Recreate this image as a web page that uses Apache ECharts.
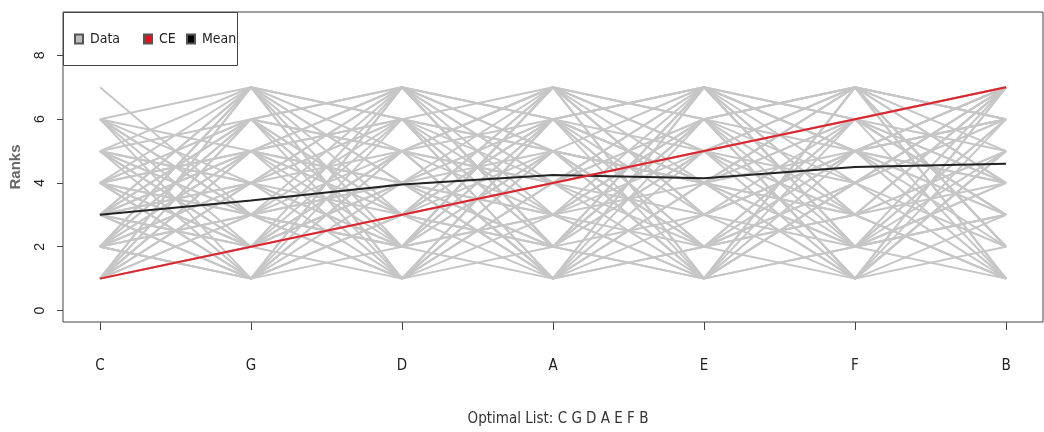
<!DOCTYPE html>
<html>
<head>
<meta charset="utf-8">
<script src="https://cdn.jsdelivr.net/npm/echarts@6/dist/echarts.min.js"></script>
<style>
html,body{margin:0;padding:0;background:#fff;}
#chart{width:1044px;height:432px;}
</style>
</head>
<body>
<div id="chart"></div>
<script>
// Categories (optimal list order)
var categories = ['C', 'G', 'D', 'A', 'E', 'F', 'B'];
// Category positions on the x scale
var positions = [1, 2, 3, 4, 5, 6, 7];
// Y tick values
var yTicks = [0, 2, 4, 6, 8];
// Legend labels
var legendNames = ['Data', 'CE', 'Mean'];
// CE ranks (red line)
var ceRanks = [1, 2, 3, 4, 5, 6, 7];
// Mean ranks (black line)
var meanRanks = [3.0, 3.45, 3.95, 4.25, 4.15, 4.5, 4.6];
// Individual rankings (gray lines), one row per list: C G D A E F B
var dataRanks = [
  [1,2,3,4,5,6,7],[2,1,4,3,6,5,7],[3,7,1,5,2,6,4],[4,1,7,2,6,3,5],
  [5,3,2,7,1,4,6],[6,4,5,1,7,2,3],[2,6,3,7,4,1,5],[3,5,6,2,1,7,4],
  [1,7,5,3,6,4,2],[4,2,1,6,3,5,7],[5,6,7,4,2,3,1],[6,3,2,5,4,7,1],
  [7,3,4,1,5,2,6],[2,4,6,1,3,5,7],[3,1,5,7,6,2,4],[1,5,4,2,7,6,3],
  [4,7,3,6,2,1,5],[5,2,6,3,7,4,1],[2,7,4,5,1,6,3],[3,6,1,4,5,7,2],
  [1,3,7,5,4,2,6],[6,5,3,2,1,4,7],[4,3,5,1,6,7,2],[3,4,2,6,7,5,1],
  [2,5,7,3,1,4,6],[5,1,3,6,4,2,7],[1,6,2,7,3,5,4],[4,5,6,7,3,2,1],
  [3,2,4,1,7,6,5],[6,7,1,3,2,5,4],[2,3,1,4,6,7,5],[5,4,7,2,3,1,6],
  [1,4,6,5,2,3,7],[3,1,2,5,4,6,7],[4,6,2,3,5,1,7],[2,1,5,6,7,3,4],
  [6,2,4,7,5,3,1],[1,2,7,6,4,5,3],[3,7,6,4,1,2,5],[5,3,1,2,6,7,4],
  [2,4,3,7,5,6,1],[4,1,3,2,7,5,6],[1,5,2,3,4,7,6],[3,6,5,1,2,4,7],
  [6,1,7,4,3,5,2],[1,3,4,2,5,7,6],[3,5,4,6,1,7,2],[2,6,5,4,7,3,1],
  [1,4,2,6,5,3,7],[2,3,6,5,4,7,1],[4,2,5,7,6,1,3],[3,1,6,2,5,4,7],
  [5,7,2,1,4,6,3],[1,6,3,5,7,2,4],[2,5,1,6,4,3,7],[6,3,1,5,2,4,7],
  [4,5,3,1,2,6,7],[3,4,7,2,6,1,5],[2,1,3,4,7,5,6],[5,2,4,3,1,7,6],
  [1,7,4,6,2,5,3],[4,3,2,7,1,5,6],[3,2,5,4,6,1,7],[2,7,6,1,4,3,5],
  [1,2,5,7,3,6,4],[4,6,7,5,1,2,3],[3,5,7,6,4,1,2],[5,4,1,6,7,2,3]
];

// pick a condensed font if one is installed
function hasFont(name) {
  var c = document.createElement('canvas').getContext('2d');
  var s = 'Optimal List: Data Mean 0123';
  c.font = '20px monospace'; var a = c.measureText(s).width;
  c.font = '20px "' + name + '", monospace'; var b = c.measureText(s).width;
  c.font = '20px serif'; var a2 = c.measureText(s).width;
  c.font = '20px "' + name + '", serif'; var b2 = c.measureText(s).width;
  return a !== b || a2 !== b2;
}
var narrowCandidates = ['Liberation Sans Narrow', 'DejaVu Sans Condensed', 'Roboto Condensed', 'Open Sans Condensed', 'Arial Narrow'];
var narrowName = null;
for (var k = 0; k < narrowCandidates.length; k++) {
  if (hasFont(narrowCandidates[k])) { narrowName = narrowCandidates[k]; break; }
}
var narrow = narrowName ? '"' + narrowName + '",sans-serif' : '"Liberation Sans",sans-serif';
var isNarrow = !!narrowName;

function pairs(vals) {
  return positions.map(function (p, i) { return [p, vals[i]]; });
}

var series = [];
dataRanks.forEach(function (row) {
  series.push({
    name: 'Data', type: 'line', data: pairs(row), showSymbol: false, silent: true,
    lineStyle: { color: '#c6c6c6', width: 2 }, itemStyle: { color: '#bdbdbd', borderColor: '#555', borderWidth: 1 },
    z: 2, animation: false
  });
});
series.push({
  name: 'CE', type: 'line', data: pairs(ceRanks), showSymbol: false, silent: true,
  lineStyle: { color: '#e0222b', width: 2 }, itemStyle: { color: '#e8101a', borderColor: '#555', borderWidth: 1 },
  z: 4, animation: false
});
series.push({
  name: 'Mean', type: 'line', data: pairs(meanRanks), showSymbol: false, silent: true,
  lineStyle: { color: '#222', width: 2 }, itemStyle: { color: '#000', borderColor: '#555', borderWidth: 1 },
  z: 3, animation: false
});

var legendLeft = [74, 143, 186];
var legends = legendNames.map(function (n, i) {
  return {
    left: legendLeft[i], top: 32, data: [n], icon: 'rect', z: 20,
    itemWidth: 8, itemHeight: 9, padding: 0, selectedMode: false,
    textStyle: { fontFamily: narrow, fontSize: isNarrow ? 14 : 12, color: '#222', padding: [0, 0, 0, 2] }
  };
});

var chart = echarts.init(document.getElementById('chart'), null, { renderer: 'canvas' });
chart.setOption({
  animation: false,
  backgroundColor: '#fff',
  title: {
    text: 'Optimal List: ' + categories.join(' '),
    left: 553, top: 407, textAlign: 'center',
    textStyle: { fontFamily: narrow, fontSize: isNarrow ? 15 : 13, fontWeight: 'normal', color: '#333' }
  },
  graphic: [{
    type: 'rect', left: 63, top: 12, z: 10,
    shape: { width: 174, height: 53 },
    style: { fill: '#fff', stroke: '#444', lineWidth: 1 }
  }],
  legend: legends,
  grid: {
    left: 63, right: 1, top: 12, bottom: 110,
    show: true, borderColor: '#444', borderWidth: 1, backgroundColor: 'transparent'
  },
  xAxis: {
    type: 'value', min: 0.755, max: 7.245,
    axisLine: { show: false, onZero: false },
    splitLine: { show: false },
    axisTick: { show: true, customValues: positions, length: 8, lineStyle: { color: '#444' } },
    axisLabel: {
      show: true, customValues: positions, margin: 37,
      formatter: function (v) { return categories[Math.round(v) - 1] || ''; },
      fontFamily: narrow, fontSize: isNarrow ? 15 : 14, color: '#222'
    }
  },
  yAxis: {
    type: 'value', min: -0.36, max: 9.36,
    name: 'Ranks', nameLocation: 'middle', nameGap: 40, nameRotate: 90,
    nameTextStyle: { fontFamily: '"Liberation Sans",sans-serif', fontSize: 15, fontWeight: 'bold', color: '#666' },
    axisLine: { show: false, onZero: false },
    splitLine: { show: false },
    axisTick: { show: true, customValues: yTicks, length: 6, lineStyle: { color: '#444' } },
    axisLabel: {
      show: true, customValues: yTicks, rotate: 90, margin: 16,
      fontFamily: '"Liberation Sans",sans-serif', fontSize: 14, color: '#222'
    }
  },
  series: series
});
</script>
</body>
</html>
